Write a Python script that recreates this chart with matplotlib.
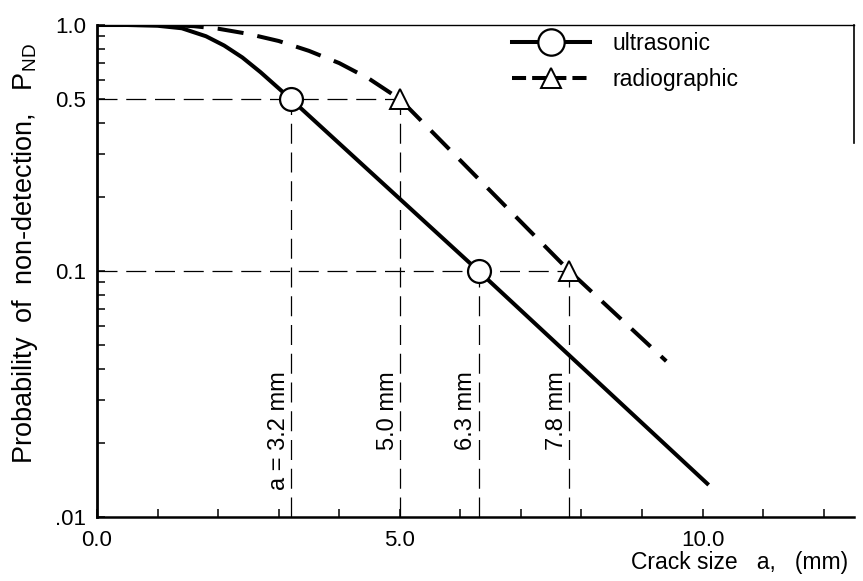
import matplotlib
matplotlib.use("Agg")
import matplotlib.pyplot as plt
from matplotlib.lines import Line2D
from matplotlib.ticker import FixedLocator, FixedFormatter, NullFormatter

plt.rcParams['font.family'] = ['Liberation Sans', 'DejaVu Sans']
plt.rcParams['mathtext.fontset'] = 'custom'
plt.rcParams['mathtext.rm'] = 'Liberation Sans'
plt.rcParams['mathtext.it'] = 'Liberation Sans'

# ---- data ----
us_x = [0.0, 0.5, 1.0, 1.4, 1.8, 2.1, 2.4, 2.7, 3.2, 6.3, 10.1]
us_y = [1.0, 1.0, 0.993, 0.97, 0.90, 0.825, 0.738, 0.643, 0.5, 0.1, 0.0135]

rg_x = [0.0, 1.2, 1.6, 2.0, 2.5, 3.0, 3.5, 4.0, 4.5, 5.0, 7.8, 9.4]
rg_y = [1.0, 1.0, 0.989, 0.966, 0.92, 0.861, 0.785, 0.70, 0.603, 0.5, 0.1, 0.043]

us_mark_x = [3.2, 6.3]
us_mark_y = [0.5, 0.1]
rg_mark_x = [5.0, 7.8]
rg_mark_y = [0.5, 0.1]

ref_levels = [0.5, 0.1]
ref_level_ends = [5.0, 7.8]
ref_x = [3.2, 5.0, 6.3, 7.8]
ref_x_tops = [0.5, 0.5, 0.1, 0.1]
ref_labels = ["a = 3.2 mm", "5.0 mm", "6.3 mm", "7.8 mm"]

x_major = [0.0, 5.0, 10.0]
x_major_labels = ["0.0", "5.0", "10.0"]
x_minor = [1, 2, 3, 4, 6, 7, 8, 9, 11, 12]
y_major = [0.01, 0.1, 0.5, 1.0]
y_major_labels = [".01", "0.1", "0.5", "1.0"]
y_minor = [0.02, 0.03, 0.04, 0.05, 0.06, 0.07, 0.08, 0.09,
           0.2, 0.3, 0.4, 0.6, 0.7, 0.8, 0.9]

# ---- figure ----
W, H = 863, 581
fig = plt.figure(figsize=(W / 100, H / 100), dpi=100)
L, R, T, B = 97, 854, 25, 517
ax = fig.add_axes([L / W, 1 - B / H, (R - L) / W, (B - T) / H])
ax.set_yscale('log')
ax.set_xlim(0, 12.5)
ax.set_ylim(0.01, 1.0)

# reference dashed lines
ax.hlines(ref_levels, 0, ref_level_ends, colors='black', linewidth=0.9,
          linestyles=(0, (16, 7)), zorder=1)
ax.vlines(ref_x, 0.01, ref_x_tops, colors='black', linewidth=0.9,
          linestyles=(0, (16, 7)), zorder=1)

# curves
ax.plot(us_x, us_y, color='black', linewidth=2.9, solid_capstyle='butt',
        solid_joinstyle='round', zorder=3)
ax.plot(rg_x, rg_y, color='black', linewidth=2.9, dashes=(6.5, 3.5), zorder=3)

# markers
ax.plot(us_mark_x, us_mark_y, linestyle='none', marker='o', markersize=16.5,
        markerfacecolor='white', markeredgecolor='black', markeredgewidth=1.6, zorder=5)
ax.plot(rg_mark_x, rg_mark_y, linestyle='none', marker='^', markersize=15,
        markerfacecolor='white', markeredgecolor='black', markeredgewidth=1.4, zorder=5)

# rotated labels beside the vertical lines
for xv, lab in zip(ref_x, ref_labels):
    ax.text(xv - 0.1, 0.039, lab, rotation=90, rotation_mode='anchor',
            ha='right', va='baseline', fontsize=17)

# spines
ax.spines['left'].set_linewidth(2.0)
ax.spines['bottom'].set_linewidth(1.8)
ax.spines['top'].set_linewidth(1.0)
ax.spines['right'].set_linewidth(1.2)
ax.spines['right'].set_bounds(0.33, 1.0)

# ticks
ax.xaxis.set_major_locator(FixedLocator(x_major))
ax.xaxis.set_major_formatter(FixedFormatter(x_major_labels))
ax.xaxis.set_minor_locator(FixedLocator(x_minor))
ax.xaxis.set_minor_formatter(NullFormatter())
ax.yaxis.set_major_locator(FixedLocator(y_major))
ax.yaxis.set_major_formatter(FixedFormatter(y_major_labels))
ax.yaxis.set_minor_locator(FixedLocator(y_minor))
ax.yaxis.set_minor_formatter(NullFormatter())
ax.tick_params(which='both', direction='in', length=6, width=1.1,
               top=False, right=False, labelsize=16)
ax.tick_params(axis='x', which='both', pad=9)
ax.tick_params(axis='y', which='both', pad=8)

# axis labels
ax.set_ylabel("Probability  of  non-detection,   $\\mathrm{P}_{\\mathrm{ND}}$", fontsize=19.5)
ax.yaxis.set_label_coords(-0.075, 0.535)
fig.text(848 / W, 1 - 563 / H, "Crack size   a,   (mm)", ha='right', va='center',
         fontsize=16.5)

# legend
h1 = Line2D([], [], color='black', linewidth=2.9, marker='o', markersize=19,
            markerfacecolor='white', markeredgecolor='black', markeredgewidth=1.6)
h2 = Line2D([], [], color='black', linewidth=2.9, dashes=(3.5, 1.5), marker='^',
            markersize=15, markerfacecolor='white', markeredgecolor='black',
            markeredgewidth=1.4)
ax.legend([h1, h2], ["ultrasonic", "radiographic"], loc='upper left',
          bbox_to_anchor=(0.548, 0.985), frameon=False, fontsize=16.5,
          handlelength=3.4, handletextpad=1.0, labelspacing=0.55, borderpad=0,
          borderaxespad=0)

fig.savefig("out.png", dpi=100)
